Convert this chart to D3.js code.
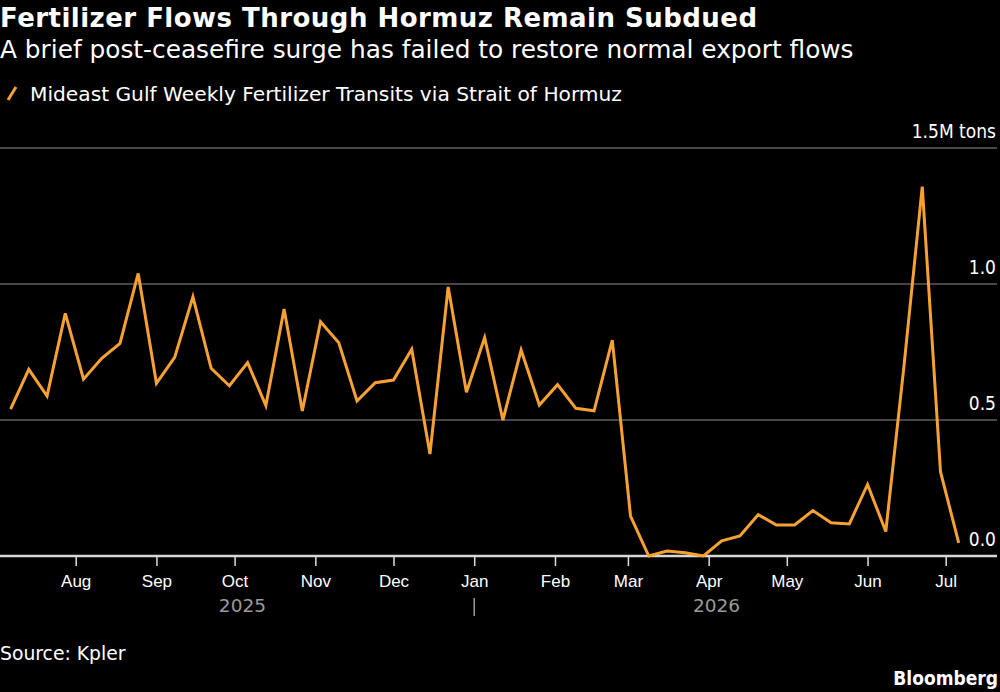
<!DOCTYPE html>
<html>
<head>
<meta charset="utf-8">
<script src="https://cdn.jsdelivr.net/npm/d3@7"></script>
<style>
    body { margin: 0; background: #000; }
    svg { display: block; font-family: 'DejaVu Sans', sans-serif; }
    .narrow { font-family: 'DejaVu Sans Condensed', 'DejaVu Sans', sans-serif; font-stretch: condensed; }
</style>
</head>
<body>
<script>

// Weekly transits, million tons
const weeks = [
    '2025-07-07', '2025-07-14', '2025-07-21', '2025-07-28', '2025-08-04', '2025-08-11', '2025-08-18', '2025-08-25',
    '2025-09-01', '2025-09-08', '2025-09-15', '2025-09-22', '2025-09-29', '2025-10-06', '2025-10-13', '2025-10-20',
    '2025-10-27', '2025-11-03', '2025-11-10', '2025-11-17', '2025-11-24', '2025-12-01', '2025-12-08', '2025-12-15',
    '2025-12-22', '2025-12-29', '2026-01-05', '2026-01-12', '2026-01-19', '2026-01-26', '2026-02-02', '2026-02-09',
    '2026-02-16', '2026-02-23', '2026-03-02', '2026-03-09', '2026-03-16', '2026-03-23', '2026-03-30', '2026-04-06',
    '2026-04-13', '2026-04-20', '2026-04-27', '2026-05-04', '2026-05-11', '2026-05-18', '2026-05-25', '2026-06-01',
    '2026-06-08', '2026-06-15', '2026-06-22', '2026-06-29', '2026-07-06'
]

const transits = [
    0.54, 0.686, 0.588, 0.892, 0.65, 0.727, 0.782, 1.039,
    0.635, 0.73, 0.953, 0.69, 0.626, 0.711, 0.553, 0.908,
    0.533, 0.861, 0.784, 0.57, 0.637, 0.647, 0.76, 0.375,
    0.989, 0.602, 0.803, 0.50, 0.757, 0.555, 0.63, 0.543,
    0.534, 0.794, 0.147, 0.0, 0.018, 0.012, 0.0, 0.056,
    0.074, 0.152, 0.114, 0.114, 0.167, 0.122, 0.118, 0.263,
    0.09, 0.70, 1.358, 0.31, 0.048
]

const yTicks = [0, 0.5, 1.0, 1.5]
const yTickLabels = ['0.0', '0.5', '1.0', '1.5M tons']
const years = ['2025', '2026']

const title = 'Fertilizer Flows Through Hormuz Remain Subdued'
const subtitle = 'A brief post-ceasefire surge has failed to restore normal export flows'
const seriesName = 'Mideast Gulf Weekly Fertilizer Transits via Strait of Hormuz'

const w = 1000
const h = 692
const orange = '#f7a133'

const parseDate = d3.timeParse('%Y-%m-%d')
const data = weeks.map((d, i) => ({ date: parseDate(d), value: transits[i] }))

const svg = d3.select('body')
    .append('svg')
        .attr('width', w)
        .attr('height', h)

svg.append('rect')
    .attr('width', w)
    .attr('height', h)
    .attr('fill', '#000')

// Headings

svg.append('text')
    .attr('x', 0)
    .attr('y', 27)
    .attr('fill', '#fff')
    .attr('font-size', 26)
    .attr('font-weight', 'bold')
    .attr('textLength', 757)
    .attr('lengthAdjust', 'spacing')
    .text(title)

svg.append('text')
    .attr('x', 0)
    .attr('y', 58)
    .attr('fill', '#fff')
    .attr('font-size', 24.8)
    .text(subtitle)

svg.append('line')
    .attr('x1', 8)
    .attr('y1', 100)
    .attr('x2', 16)
    .attr('y2', 87)
    .attr('stroke', orange)
    .attr('stroke-width', 3)

svg.append('text')
    .attr('x', 30)
    .attr('y', 101)
    .attr('fill', '#fff')
    .attr('font-size', 20.2)
    .text(seriesName)

// Scales

const x = d3.scaleTime()
    .domain([new Date(2025, 7, 1), new Date(2026, 6, 1)])
    .range([75.7, 945.7])

const y = d3.scaleLinear()
    .domain([0, 1.5])
    .range([556, 148])

const plotLeft = 0
const plotRight = 997

// Grid and y labels

svg.append('g')
    .selectAll('line')
    .data(yTicks.filter(d => d > 0))
    .enter()
    .append('line')
        .attr('x1', plotLeft)
        .attr('x2', plotRight)
        .attr('y1', d => y(d))
        .attr('y2', d => y(d))
        .attr('stroke', '#5c5c5c')
        .attr('stroke-width', 1.5)

svg.append('g')
    .attr('class', 'narrow')
    .selectAll('text')
    .data(yTicks)
    .enter()
    .append('text')
        .attr('x', 996)
        .attr('y', d => y(d) - 10)
        .attr('text-anchor', 'end')
        .attr('fill', '#fff')
        .attr('font-size', 19)
        .text((d, i) => yTickLabels[i])

// X axis

const xAxis = d3.axisBottom(x)
    .ticks(d3.timeMonth.every(1))
    .tickFormat(d3.timeFormat('%b'))
    .tickSize(10)
    .tickSizeOuter(0)

const xg = svg.append('g')
    .attr('transform', `translate(0, ${y(0)})`)
    .call(xAxis)

xg.select('.domain').remove()
xg.selectAll('.tick line')
    .attr('stroke', '#ddd')
    .attr('stroke-width', 1.5)
xg.selectAll('.tick text')
    .attr('fill', '#fff')
    .attr('font-size', 17)
    .attr('font-family', null)
    .attr('y', 31)
    .attr('dy', 0)

svg.append('line')
    .attr('x1', plotLeft)
    .attr('x2', plotRight)
    .attr('y1', y(0))
    .attr('y2', y(0))
    .attr('stroke', '#d8d8d8')
    .attr('stroke-width', 2.5)

// Year labels centred on the part of each year the data covers

const first = data[0].date
const last = data[data.length - 1].date
const yearBreak = new Date(2026, 0, 1)
const yearSpans = [[first, yearBreak], [yearBreak, last]]

svg.append('g')
    .selectAll('text')
    .data(years)
    .enter()
    .append('text')
        .attr('x', (d, i) => (x(yearSpans[i][0]) + x(yearSpans[i][1])) / 2)
        .attr('y', 612)
        .attr('text-anchor', 'middle')
        .attr('fill', '#9a9a9a')
        .attr('font-size', 18.5)
        .text(d => d)

svg.append('line')
    .attr('x1', x(yearBreak))
    .attr('x2', x(yearBreak))
    .attr('y1', 598)
    .attr('y2', 616)
    .attr('stroke', '#9a9a9a')
    .attr('stroke-width', 1.5)

// Series line

const line = d3.line()
    .x(d => x(d.date))
    .y(d => y(d.value))

svg.append('path')
    .datum(data)
    .attr('d', line)
    .attr('fill', 'none')
    .attr('stroke', orange)
    .attr('stroke-width', 3)

// Footer

svg.append('text')
    .attr('x', 0)
    .attr('y', 660)
    .attr('fill', '#fff')
    .attr('font-size', 18.8)
    .text('Source: Kpler')

svg.append('text')
    .attr('class', 'narrow')
    .attr('x', 998)
    .attr('y', 685)
    .attr('text-anchor', 'end')
    .attr('fill', '#fff')
    .attr('font-size', 19)
    .attr('font-weight', 'bold')
    .text('Bloomberg')

</script>
</body>
</html>
